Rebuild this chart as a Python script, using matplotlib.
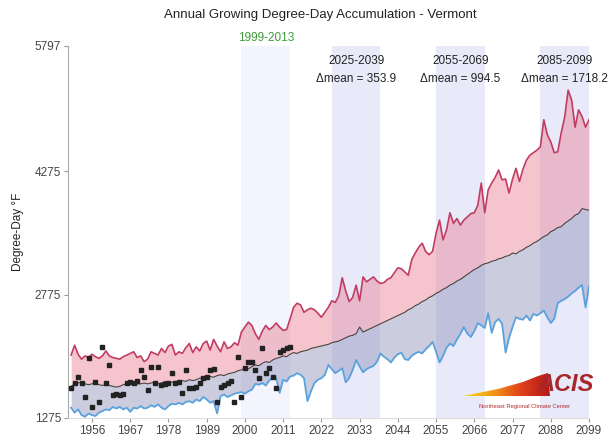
import numpy as np
import matplotlib
matplotlib.use("Agg")
import matplotlib.pyplot as plt
from matplotlib.patches import Polygon
from matplotlib.colors import LinearSegmentedColormap

plt.rcParams['font.family'] = ['Liberation Sans', 'DejaVu Sans']

years = np.arange(1950, 2100)
obs_years = np.arange(1950, 2014)

# projected range (upper / mean / lower), GDD
upper = [2040, 2160, 2050, 1990, 2030, 2010, 2050, 2020, 2000, 2030,
         2090, 2030, 2010, 2000, 1990, 2020, 2040, 2060, 2080, 2010,
         2030, 1960, 1990, 2080, 2060, 2040, 2120, 2070, 2150, 2170,
         2040, 2080, 2060, 2130, 2180, 2070, 2140, 2090, 2180, 2210,
         2100, 2230, 2150, 2080, 2200, 2120, 2140, 2190, 2160, 2320,
         2380, 2440, 2400, 2300, 2230, 2330, 2400, 2350, 2380, 2430,
         2380, 2340, 2350, 2480, 2620, 2670, 2650, 2560, 2590, 2610,
         2590, 2550, 2500, 2560, 2620, 2700, 2680, 2760, 2980, 2820,
         2690, 2740, 2890, 2700, 2990, 2930, 2960, 2990, 2940, 2910,
         2920, 2960, 2980, 3040, 3100, 3090, 3050, 3010, 3200, 3280,
         3350, 3400, 3300, 3260, 3300, 3520, 3680, 3440, 3560, 3770,
         3640, 3700, 3620, 3680, 3720, 3760, 3770, 3860, 4130, 3770,
         4050, 4130, 4200, 4290, 4170, 4180, 4010, 4180, 4310, 4150,
         4300, 4410, 4470, 4500, 4530, 4570, 4900, 4720, 4630, 4500,
         4510, 4740, 4930, 5260, 5140, 4810, 5020, 4940, 4810, 4900]

mean = [1660, 1690, 1700, 1710, 1690, 1680, 1690, 1700, 1680, 1670,
        1680, 1670, 1660, 1650, 1660, 1680, 1690, 1680, 1700, 1690,
        1690, 1700, 1690, 1700, 1710, 1690, 1700, 1720, 1700, 1710,
        1720, 1710, 1730, 1720, 1740, 1730, 1740, 1760, 1750, 1770,
        1780, 1770, 1790, 1800, 1790, 1810, 1820, 1830, 1850, 1860,
        1880, 1870, 1900, 1920, 1910, 1940, 1960, 1950, 1980, 2000,
        2010, 2030, 2020, 2050, 2070, 2060, 2080, 2090, 2100, 2120,
        2130, 2140, 2150, 2160, 2170, 2190, 2200, 2210, 2230, 2250,
        2270, 2280, 2300, 2380, 2320, 2340, 2360, 2380, 2400, 2420,
        2440, 2460, 2480, 2500, 2520, 2540, 2560, 2590, 2610, 2640,
        2660, 2690, 2710, 2740, 2760, 2790, 2810, 2840, 2860, 2890,
        2910, 2940, 2960, 2990, 3020, 3050, 3080, 3100, 3130, 3150,
        3160, 3180, 3190, 3210, 3220, 3240, 3250, 3280, 3270, 3300,
        3320, 3350, 3370, 3400, 3420, 3450, 3480, 3500, 3540, 3560,
        3590, 3600, 3640, 3670, 3700, 3740, 3760, 3820, 3810, 3800]

lower = [1400, 1340, 1380, 1310, 1290, 1330, 1310, 1300, 1340, 1360,
         1380, 1370, 1410, 1390, 1410, 1380, 1400, 1350, 1400, 1390,
         1420, 1390, 1400, 1430, 1410, 1440, 1400, 1380, 1420, 1450,
         1440, 1460, 1440, 1470, 1480, 1460, 1500, 1480, 1530, 1500,
         1460, 1480, 1330, 1540, 1560, 1530, 1550, 1570, 1580, 1590,
         1570, 1600, 1620, 1690, 1680, 1700, 1670, 1730, 1770, 1760,
         1580, 1740, 1720, 1780, 1790, 1820, 1800, 1760, 1480, 1600,
         1700, 1740, 1760, 1800, 1920, 1870, 1820, 1850, 1880, 1710,
         1760, 1860, 1980, 1900, 1830, 1870, 1890, 1910, 1960, 2060,
         2020, 1990, 1950, 2010, 2050, 2070, 1990, 1980, 2030, 2060,
         2080, 2060, 2110, 2150, 2200, 2080, 1950, 2030, 2130, 2180,
         2150, 2230, 2300, 2380, 2300, 2260, 2330, 2430, 2400, 2370,
         2550, 2310, 2440, 2480, 2420, 2070, 2250, 2380, 2500, 2480,
         2470, 2520, 2460, 2540, 2520, 2550, 2580, 2500, 2430, 2480,
         2670, 2700, 2720, 2750, 2790, 2820, 2860, 2890, 2620, 2870]

observed = [1640, 1700, 1775, 1700, 1530, 2005, 1410, 1715, 1470, 2135,
            1700, 1920, 1555, 1565, 1560, 1565, 1700, 1710, 1705, 1720,
            1860, 1775, 1615, 1895, 1700, 1895, 1680, 1690, 1700, 1820,
            1700, 1710, 1580, 1860, 1640, 1640, 1650, 1700, 1760, 1770,
            1860, 1870, 1470, 1650, 1680, 1700, 1720, 1470, 2015, 1530,
            1880, 1950, 1955, 1860, 1760, 2125, 1820, 1880, 1770, 1640,
            2075, 2100, 2125, 2140]

periods = [(1999, 2013), (2025, 2039), (2055, 2069), (2085, 2099)]
period_labels = ['1999-2013', '2025-2039', '2055-2069', '2085-2099']
delta_means = [None, 353.9, 994.5, 1718.2]

fig = plt.figure(figsize=(6.16, 4.4), dpi=100)
ax = fig.add_axes([68 / 616, 1 - 418 / 440, 521 / 616, 372 / 440])

# shaded periods
for i, (a, b) in enumerate(periods):
    col = '#f3f4fd' if i == 0 else '#e8eafa'
    ax.axvspan(a, b, color=col, zorder=0, lw=0)

ax.fill_between(years, mean, upper, color='#e8738a', alpha=0.42, lw=0, zorder=1)
ax.fill_between(years, lower, mean, color='#8e8eb8', alpha=0.45, lw=0, zorder=1)
ax.plot(years, upper, color='#c23b62', lw=1.2, zorder=3)
ax.plot(years, lower, color='#5aa2de', lw=1.3, zorder=3)
ax.plot(years, mean, color='#444444', lw=0.8, zorder=3)
ax.plot(obs_years, observed, 's', color='#222222', ms=2.7, zorder=4)

ax.set_xlim(1949.1, 2099)
ax.set_ylim(1275, 5797)
ax.set_yticks([1275, 2775, 4275, 5797])
ax.set_xticks(np.arange(1956, 2100, 11))
ax.tick_params(axis='both', colors='#999999', length=3, width=0.8, labelsize=8.5,
               labelcolor='#444444', pad=2)
for s in ['top', 'right']:
    ax.spines[s].set_visible(False)
ax.spines['left'].set_color('#aaaaaa')
ax.spines['bottom'].set_color('#dddddd')
ax.set_ylabel('Degree-Day °F', fontsize=8.5, color='#222222', labelpad=8)

fig.text(320 / 616, 1 - 15 / 440, 'Annual Growing Degree-Day Accumulation - Vermont',
         ha='center', va='center', fontsize=9.5, color='#222222')

# period labels
for i, (a, b) in enumerate(periods):
    xc = (a + b) / 2
    if delta_means[i] is None:
        ax.text(xc, 1.005, period_labels[i], transform=ax.get_xaxis_transform(),
                ha='center', va='bottom', fontsize=8.5, color='#3c9a3c', clip_on=False)
    else:
        ax.text(xc, 0.96, period_labels[i], transform=ax.get_xaxis_transform(),
                ha='center', va='center', fontsize=8.5, color='#222222')
        ax.text(xc, 0.912, 'Δmean = %.1f' % delta_means[i], transform=ax.get_xaxis_transform(),
                ha='center', va='center', fontsize=8.5, color='#222222')

# ACIS logo
lax = fig.add_axes([458 / 616, 1 - 412 / 440, 134 / 616, 42 / 440])
lax.set_xlim(0, 134)
lax.set_ylim(42, 0)
lax.axis('off')
grad = np.linspace(0, 1, 256).reshape(1, -1)
cmap = LinearSegmentedColormap.from_list('acis', ['#f6e21a', '#f39a16', '#e0401c', '#b01818'])
im = lax.imshow(grad, extent=(4, 92, 30, 2), cmap=cmap, aspect='auto')
wedge = Polygon([(5, 26), (40, 19), (65, 12), (80, 6), (90, 3), (92, 26)],
                closed=True, transform=lax.transData)
im.set_clip_path(wedge)
lax.text(108, 14, 'ACIS', ha='center', va='center', fontsize=17, fontweight='bold',
         fontstyle='italic', color='#a8262a')
lax.text(67, 36, 'Northeast Regional Climate Center', ha='center', va='center',
         fontsize=4.2, color='#b02a2a')

fig.savefig('out.png', dpi=100)
